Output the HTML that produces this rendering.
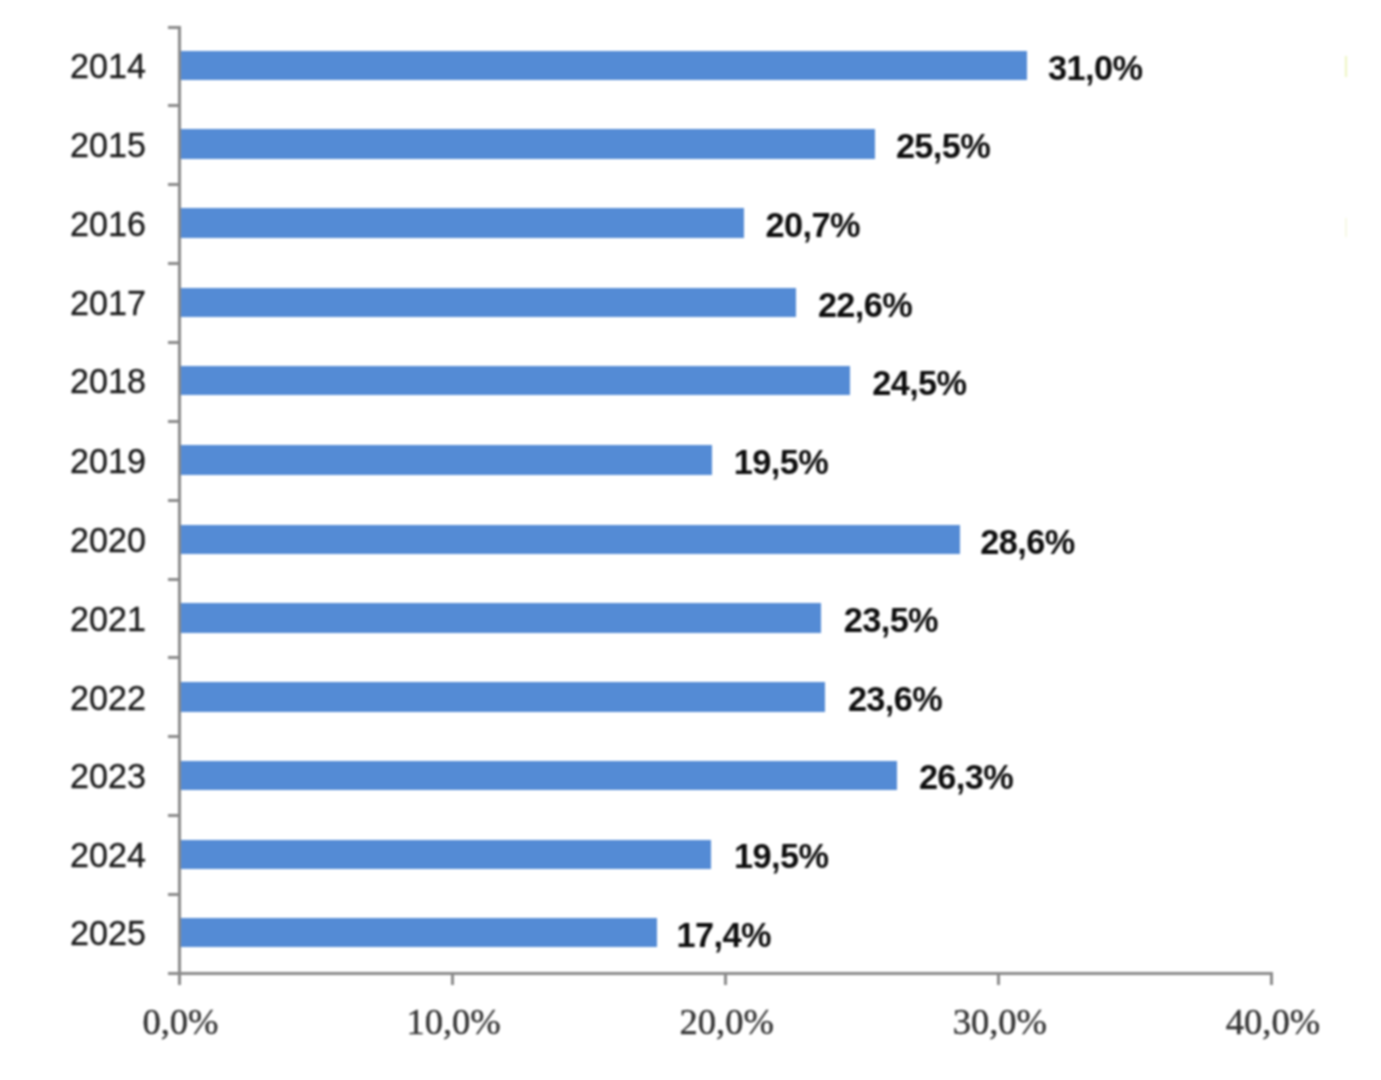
<!DOCTYPE html><html><head><meta charset="utf-8"><style>
html,body{margin:0;padding:0;background:#fff;width:1381px;height:1080px;overflow:hidden;position:relative}
.a{position:absolute}
.t{position:absolute;line-height:0;white-space:nowrap;height:0}
.yl{font-family:"Liberation Sans",sans-serif;font-size:35.00px;color:#1a1a1a;text-align:right;width:200px;transform:scaleX(0.975);transform-origin:right center;-webkit-text-stroke:0.30px #1a1a1a}
.dl{font-family:"Liberation Sans",sans-serif;font-weight:bold;font-size:34.30px;color:#0d0d0d;letter-spacing:-0.60px}
.xl{font-family:"Liberation Serif",serif;font-size:36.50px;color:#333;text-align:center;width:300px;-webkit-text-stroke:0.40px #333}
#w{position:absolute;left:0;top:0;width:1381px;height:1080px;filter:blur(0.80px)}
</style></head><body><div id="w">
<div class="a" style="left:177.50px;top:25.56px;width:3.00px;height:959.64px;background:#8a8a8a"></div>
<div class="a" style="left:167.50px;top:25.56px;width:11.5px;height:3.00px;background:#8a8a8a"></div>
<div class="a" style="left:167.50px;top:104.41px;width:11.5px;height:3.00px;background:#8a8a8a"></div>
<div class="a" style="left:167.50px;top:183.27px;width:11.5px;height:3.00px;background:#8a8a8a"></div>
<div class="a" style="left:167.50px;top:262.12px;width:11.5px;height:3.00px;background:#8a8a8a"></div>
<div class="a" style="left:167.50px;top:340.97px;width:11.5px;height:3.00px;background:#8a8a8a"></div>
<div class="a" style="left:167.50px;top:419.82px;width:11.5px;height:3.00px;background:#8a8a8a"></div>
<div class="a" style="left:167.50px;top:498.68px;width:11.5px;height:3.00px;background:#8a8a8a"></div>
<div class="a" style="left:167.50px;top:577.53px;width:11.5px;height:3.00px;background:#8a8a8a"></div>
<div class="a" style="left:167.50px;top:656.38px;width:11.5px;height:3.00px;background:#8a8a8a"></div>
<div class="a" style="left:167.50px;top:735.24px;width:11.5px;height:3.00px;background:#8a8a8a"></div>
<div class="a" style="left:167.50px;top:814.09px;width:11.5px;height:3.00px;background:#8a8a8a"></div>
<div class="a" style="left:167.50px;top:892.94px;width:11.5px;height:3.00px;background:#8a8a8a"></div>
<div class="a" style="left:167.50px;top:971.70px;width:11.5px;height:3.00px;background:#8a8a8a"></div>
<div class="a" style="left:167.50px;top:971.70px;width:1105.50px;height:3.00px;background:#8a8a8a"></div>
<div class="a" style="left:177.50px;top:973.20px;width:3.00px;height:12px;background:#8a8a8a"></div>
<div class="t xl" style="left:30.50px;top:1022.18px">0,0%</div>
<div class="a" style="left:450.62px;top:973.20px;width:3.00px;height:12px;background:#8a8a8a"></div>
<div class="t xl" style="left:303.62px;top:1022.18px">10,0%</div>
<div class="a" style="left:723.75px;top:973.20px;width:3.00px;height:12px;background:#8a8a8a"></div>
<div class="t xl" style="left:576.75px;top:1022.18px">20,0%</div>
<div class="a" style="left:996.88px;top:973.20px;width:3.00px;height:12px;background:#8a8a8a"></div>
<div class="t xl" style="left:849.88px;top:1022.18px">30,0%</div>
<div class="a" style="left:1270.00px;top:973.20px;width:3.00px;height:12px;background:#8a8a8a"></div>
<div class="t xl" style="left:1123.00px;top:1022.18px">40,0%</div>
<div class="a" style="left:180.50px;top:51.05px;width:846.25px;height:29.30px;background:#548bd5"></div>
<div class="t yl" style="left:-54.00px;top:66.26px">2014</div>
<div class="t dl" style="left:1048.05px;top:67.66px">31,0%</div>
<div class="a" style="left:180.50px;top:129.45px;width:694.00px;height:29.30px;background:#548bd5"></div>
<div class="t yl" style="left:-54.00px;top:144.67px">2015</div>
<div class="t dl" style="left:895.90px;top:146.06px">25,5%</div>
<div class="a" style="left:180.50px;top:208.35px;width:563.20px;height:29.30px;background:#548bd5"></div>
<div class="t yl" style="left:-54.00px;top:223.56px">2016</div>
<div class="t dl" style="left:765.60px;top:224.96px">20,7%</div>
<div class="a" style="left:180.50px;top:287.95px;width:615.40px;height:29.30px;background:#548bd5"></div>
<div class="t yl" style="left:-54.00px;top:303.17px">2017</div>
<div class="t dl" style="left:817.90px;top:304.56px">22,6%</div>
<div class="a" style="left:180.50px;top:366.05px;width:669.20px;height:29.30px;background:#548bd5"></div>
<div class="t yl" style="left:-54.00px;top:381.26px">2018</div>
<div class="t dl" style="left:872.20px;top:382.66px">24,5%</div>
<div class="a" style="left:180.50px;top:445.45px;width:531.10px;height:29.30px;background:#548bd5"></div>
<div class="t yl" style="left:-54.00px;top:460.67px">2019</div>
<div class="t dl" style="left:733.80px;top:462.06px">19,5%</div>
<div class="a" style="left:180.50px;top:525.15px;width:779.80px;height:29.30px;background:#548bd5"></div>
<div class="t yl" style="left:-54.00px;top:540.36px">2020</div>
<div class="t dl" style="left:980.35px;top:541.76px">28,6%</div>
<div class="a" style="left:180.50px;top:603.46px;width:640.20px;height:29.30px;background:#548bd5"></div>
<div class="t yl" style="left:-54.00px;top:618.67px">2021</div>
<div class="t dl" style="left:843.75px;top:620.06px">23,5%</div>
<div class="a" style="left:180.50px;top:682.45px;width:644.30px;height:29.30px;background:#548bd5"></div>
<div class="t yl" style="left:-54.00px;top:697.66px">2022</div>
<div class="t dl" style="left:847.90px;top:699.06px">23,6%</div>
<div class="a" style="left:180.50px;top:760.65px;width:716.60px;height:29.30px;background:#548bd5"></div>
<div class="t yl" style="left:-54.00px;top:775.87px">2023</div>
<div class="t dl" style="left:918.90px;top:777.26px">26,3%</div>
<div class="a" style="left:180.50px;top:839.65px;width:530.80px;height:29.30px;background:#548bd5"></div>
<div class="t yl" style="left:-54.00px;top:854.86px">2024</div>
<div class="t dl" style="left:734.10px;top:856.26px">19,5%</div>
<div class="a" style="left:180.50px;top:917.96px;width:476.60px;height:29.30px;background:#548bd5"></div>
<div class="t yl" style="left:-54.00px;top:933.17px">2025</div>
<div class="t dl" style="left:676.60px;top:934.56px">17,4%</div>
<div class="a" style="left:1344.5px;top:56px;width:2px;height:21px;background:rgba(215,230,120,0.45)"></div>
<div class="a" style="left:1345px;top:218px;width:1.5px;height:19px;background:rgba(225,235,170,0.3)"></div>
</div></body></html>
